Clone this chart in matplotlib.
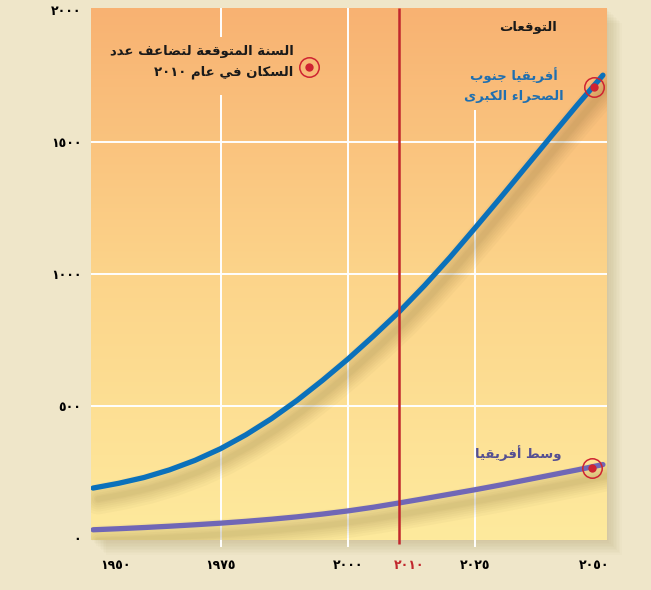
import re
import numpy as np
import matplotlib
matplotlib.use("Agg")
import matplotlib.pyplot as plt
from matplotlib.patches import Rectangle
from matplotlib.transforms import ScaledTranslation, offset_copy

# ---- data ----
years = [1950, 1955, 1960, 1965, 1970, 1975, 1980, 1985, 1990, 1995, 2000,
         2005, 2010, 2015, 2020, 2025, 2030, 2035, 2040, 2045, 2050]
sub_saharan = [188, 206, 228, 257, 293, 337, 390, 451, 520, 596, 677,
               764, 855, 955, 1062, 1175, 1290, 1407, 1524, 1640, 1752]
central_africa = [30, 34, 38.5, 43.5, 49, 55, 62, 70, 79, 89.5, 101.5,
                  115.5, 131.5, 148, 165, 182, 200, 219, 238, 257, 277]

x_ticks = [1950, 1975, 2000, 2010, 2025, 2050]
x_tick_labels = ["١٩٥٠", "١٩٧٥", "٢٠٠٠", "٢٠١٠", "٢٠٢٥", "٢٠٥٠"]
y_ticks = [0, 500, 1000, 1500, 2000]
y_tick_labels = ["٠", "٥٠٠", "١٠٠٠", "١٥٠٠", "٢٠٠٠"]

doubling_year = 2010
marker_points = [(2048.3, 1708), (2047.8, 263)]
legend_marker = (1992.4, 1783)

title_txt = "التوقعات"
legend_txt = ["السنة المتوقعة لتضاعف عدد", "السكان في عام ٢٠١٠"]
ssa_txt = ["أفريقيا جنوب", "الصحراء الكبرى"]
ca_txt = "وسط أفريقيا"

# ---- simple arabic shaping (matplotlib does no shaping / bidi) ----
DUAL = {"ب": 0xFE8F, "ت": 0xFE95, "ج": 0xFE9D, "ح": 0xFEA1, "س": 0xFEB1,
        "ص": 0xFEB9, "ض": 0xFEBD, "ط": 0xFEC1, "ع": 0xFEC9, "ف": 0xFED1,
        "ق": 0xFED5, "ك": 0xFED9, "ل": 0xFEDD, "م": 0xFEE1, "ن": 0xFEE5,
        "ي": 0xFEF1}
RIGHT = {"أ": 0xFE83, "ا": 0xFE8D, "ة": 0xFE93, "د": 0xFEA9, "ر": 0xFEAD,
         "و": 0xFEED, "ى": 0xFEEF}


def ar(s):
    out = []
    for i, c in enumerate(s):
        prev = s[i - 1] if i > 0 else ""
        nxt = s[i + 1] if i + 1 < len(s) else ""
        if c in DUAL:
            jp = prev in DUAL
            jn = nxt in DUAL or nxt in RIGHT
            k = 3 if (jp and jn) else 1 if jp else 2 if jn else 0
            out.append(chr(DUAL[c] + k))
        elif c in RIGHT:
            out.append(chr(RIGHT[c] + (1 if prev in DUAL else 0)))
        elif c == "ء":
            out.append(chr(0xFE80))
        else:
            out.append(c)
    vis = "".join(reversed(out))
    return re.sub("[٠-٩]+", lambda m: m.group(0)[::-1], vis)


plt.rcParams["font.family"] = ["DejaVu Sans"]

W, H = 651, 590
bg = "#efe6c9"
fig = plt.figure(figsize=(W / 100, H / 100), dpi=100, facecolor=bg)

L, R, T, B = 91, 607, 8, 540
ax = fig.add_axes([L / W, 1 - B / H, (R - L) / W, (B - T) / H])

# soft shadow of the panel
for i in range(10):
    d = 1 + i * 1.5
    fig.add_artist(Rectangle(((L + d) / W, 1 - (B + d) / H), (R - L) / W, (B - T) / H,
                             transform=fig.transFigure, facecolor="#a08a50",
                             edgecolor="none", alpha=0.03, zorder=-1))

ax.set_xlim(1949.6, 2050.8)
ax.set_ylim(-8.7, 2006.5)

# background gradient orange -> yellow
top = np.array([248, 178, 114]) / 255
mid = np.array([252, 212, 138]) / 255
bot = np.array([254, 234, 157]) / 255
t = np.linspace(0, 1, 256)[:, None]
grad = np.where(t < 0.5, top + (mid - top) * (t / 0.5), mid + (bot - mid) * ((t - 0.5) / 0.5))
ax.imshow(grad[:, None, :], extent=[1949.6, 2050.8, -8.7, 2006.5], aspect="auto",
          origin="upper", zorder=0)

for s in ax.spines.values():
    s.set_visible(False)

# grid
for v in y_ticks[1:4]:
    ax.axhline(v, color="white", lw=1.4, zorder=1)
ax.vlines(1975, -35, 1677, color="white", lw=1.4, zorder=1, clip_on=False)
ax.vlines(1975, 1897, 2006.5, color="white", lw=1.4, zorder=1, clip_on=False)
ax.vlines(2000, -35, 2006.5, color="white", lw=1.4, zorder=1, clip_on=False)
ax.vlines(2025, -35, 1620, color="white", lw=1.4, zorder=1, clip_on=False)
ax.vlines(doubling_year, -24, 2006.5, color="#c1272d", lw=1.8, zorder=4, clip_on=False)

# curves with soft drop shadow
shadow = offset_copy(ax.transData, fig=fig, x=5, y=-11, units="dots")
for series, col in [(sub_saharan, "#0b71bb"), (central_africa, "#7067b6")]:
    for lw in [22, 18, 15, 12, 9, 6, 4]:
        ax.plot(years, series, color="#6b5a2a", lw=lw, alpha=0.035, transform=shadow,
                solid_capstyle="round", solid_joinstyle="round", zorder=2)
    ax.plot(years, series, color=col, lw=3.8, solid_capstyle="round",
            solid_joinstyle="round", zorder=3)

# markers
for x, y in marker_points + [legend_marker]:
    ax.plot(x, y, "o", ms=14, mfc="none", mec="#cf2331", mew=1.1, zorder=5, clip_on=False)
    ax.plot(x, y, "o", ms=6, mfc="#cf2331", mec="none", zorder=5)

# ticks
ax.set_xticks(x_ticks, x_tick_labels)
ax.set_yticks(y_ticks, y_tick_labels)
ax.tick_params(length=0, labelsize=9)
ax.tick_params(axis="x", pad=14)
ax.tick_params(axis="y", pad=7)
for lab in ax.get_yticklabels() + ax.get_xticklabels():
    lab.set_fontweight("bold")
x_shift = [22, 0, 0, 10, 0, -9]
for lab, dx in zip(ax.get_xticklabels(), x_shift):
    lab.set_transform(lab.get_transform() + ScaledTranslation(dx / 100, 0, fig.dpi_scale_trans))
ax.get_xticklabels()[3].set_color("#c1272d")

# annotations
fs = 9.5
ax.text(2035.3, 1931, ar(title_txt), ha="center", va="center", fontsize=fs,
        fontweight="bold", color="#1a1a1a", zorder=6)
ax.text(1989.3, 1840, ar(legend_txt[0]), ha="right", va="center", fontsize=fs,
        fontweight="bold", color="#1a1a1a", zorder=6)
ax.text(1989.3, 1765, ar(legend_txt[1]), ha="right", va="center", fontsize=fs,
        fontweight="bold", color="#1a1a1a", zorder=6)
ax.text(2032.5, 1753, ar(ssa_txt[0]), ha="center", va="center", fontsize=fs,
        fontweight="bold", color="#1f6fb0", zorder=6)
ax.text(2032.5, 1673, ar(ssa_txt[1]), ha="center", va="center", fontsize=fs,
        fontweight="bold", color="#1f6fb0", zorder=6)
ax.text(2033.3, 321, ar(ca_txt), ha="center", va="center", fontsize=fs,
        fontweight="bold", color="#554f92", zorder=6)

fig.savefig("out.png", dpi=100, facecolor=bg)
